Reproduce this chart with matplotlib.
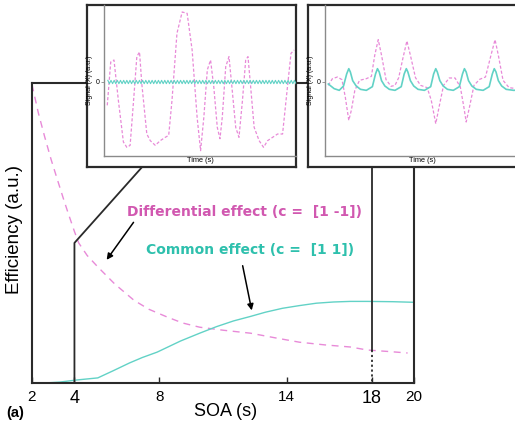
import numpy as np
import matplotlib
matplotlib.use('Agg')
import matplotlib.pyplot as plt

plt.rcParams.update({
    'font.family': ['Liberation Sans', 'DejaVu Sans'],
})

PINK_LINE = '#e88ad8'
PINK_TEXT = '#d158b0'
TEAL_LINE = '#62d2c6'
TEAL_TEXT = '#2ec0ad'
EDGE = '#2a2a2a'

# main panel: efficiency vs SOA
soa_diff = [2.0, 2.3, 2.6, 2.9, 3.2, 3.5, 3.7, 4.0, 4.2, 4.6, 5.1, 5.9, 6.8, 7.5, 8.4,
            9.1, 9.9, 11.0, 12.3, 13.5, 14.6, 15.8, 17.0, 17.8, 18.8, 19.7]
eff_diff = [0.995, 0.90, 0.82, 0.745, 0.677, 0.61, 0.567, 0.505, 0.467, 0.425, 0.387, 0.33,
            0.276, 0.246, 0.219, 0.200, 0.186, 0.176, 0.166, 0.150, 0.136, 0.127, 0.120,
            0.110, 0.105, 0.100]

soa_comm = [2.0, 2.6, 3.3, 4.1, 5.1, 5.8, 6.6, 7.2, 7.9, 9.0, 9.9, 10.7, 11.5, 12.3, 13.0,
            13.8, 14.6, 15.4, 16.2, 17.0, 17.8, 19.0, 20.0]
eff_comm = [0.0, 0.0, 0.003, 0.010, 0.017, 0.040, 0.067, 0.085, 0.103, 0.140, 0.166, 0.188,
            0.207, 0.222, 0.236, 0.249, 0.258, 0.266, 0.270, 0.272, 0.272, 0.271, 0.269]

xtick_vals = [2, 4, 8, 14, 18, 20]
xtick_sizes = [11, 13, 11, 11, 13, 11]

# inset 1: SOA = 4 s
t1_diff = [1.7, 3.5, 5.2, 7.5, 10.1, 11.9, 13.6, 15.4, 17.1, 18.5, 19.7, 22.3, 24.1, 26.7,
           29.3, 31.9, 33.7, 35.4, 38.0, 40.7, 43.3, 45.9, 48.5, 50.3, 52.0, 53.8, 55.5,
           57.2, 59.0, 60.4, 61.6, 63.4, 65.1, 66.8, 68.6, 70.3, 72.1, 73.8, 75.0, 76.4,
           78.2, 80.8, 83.1, 85.2, 87.8, 90.4, 93.0, 94.8, 97.4, 99.1]
s1_diff = [-0.35, 0.30, 0.33, -0.28, -0.90, -0.98, -0.95, -0.28, 0.38, 0.45, -0.03, -0.78,
           -0.88, -0.95, -0.88, -0.83, -0.80, -0.28, 0.73, 1.05, 1.03, 0.48, -0.53, -1.03,
           -0.53, 0.18, 0.33, -0.08, -0.68, -0.85, -0.53, 0.23, 0.38, -0.13, -0.68, -0.83,
           -0.28, 0.33, 0.38, -0.08, -0.68, -0.88, -0.98, -0.88, -0.83, -0.78, -0.78, -0.28,
           0.43, 0.48]
s1_comm = [0.025, -0.025, 0.025, -0.025, 0.025, -0.025, 0.025, -0.025, 0.025, -0.025, 0.025, -0.025,
           0.025, -0.025, 0.025, -0.025, 0.025, -0.025, 0.025, -0.025, 0.025, -0.025, 0.025, -0.025,
           0.025, -0.025, 0.025, -0.025, 0.025, -0.025, 0.025, -0.025, 0.025, -0.025, 0.025, -0.025,
           0.025, -0.025, 0.025, -0.025, 0.025, -0.025, 0.025, -0.025, 0.025, -0.025, 0.025, -0.025,
           0.025, -0.025, 0.025, -0.025, 0.025, -0.025, 0.025, -0.025, 0.025, -0.025, 0.025, -0.025,
           0.025, -0.025, 0.025, -0.025, 0.025, -0.025, 0.025, -0.025, 0.025, -0.025, 0.025, -0.025,
           0.025, -0.025, 0.025, -0.025, 0.025, -0.025, 0.025, -0.025, 0.025, -0.025, 0.025, -0.025,
           0.025, -0.025, 0.025, -0.025, 0.025, -0.025, 0.025, -0.025, 0.025, -0.025, 0.025, -0.025,
           0.025, -0.025, 0.025, -0.025, 0.025, -0.025, 0.025, -0.025, 0.025, -0.025, 0.025, -0.025,
           0.025, -0.025, 0.025, -0.025, 0.025, -0.025, 0.025, -0.025, 0.025, -0.025, 0.025, -0.025]

# inset 2: SOA = 18 s
t2_diff = [1.7, 3.8, 6.4, 8.7, 10.4, 12.2, 13.5, 15.3, 17.7, 21.2, 23.8, 25.5, 27.3, 29.0,
           31.3, 33.9, 35.9, 37.8, 39.9, 42.0, 43.8, 46.4, 49.0, 52.4, 54.5, 56.8, 58.5,
           60.8, 63.7, 66.7, 69.4, 71.2, 72.4, 74.1, 76.4, 79.3, 82.3, 85.1, 87.2, 88.9,
           91.3, 94.4, 98.4]
s2_diff = [-0.05, 0.05, 0.075, 0.035, -0.225, -0.575, -0.425, -0.125, 0.025, 0.05, 0.085,
           0.40, 0.635, 0.40, 0.035, -0.065, -0.05, 0.065, 0.35, 0.615, 0.40, 0.065, -0.05,
           -0.085, -0.275, -0.625, -0.375, -0.05, 0.06, 0.06, -0.075, -0.375, -0.60, -0.375,
           -0.05, 0.04, 0.075, 0.40, 0.635, 0.40, 0.025, -0.085, -0.10]
t2_comm = [1.7, 4.7, 7.3, 9.5, 11.1, 12.2, 13.0, 14.2, 16.0, 18.2, 21.2, 24.3, 25.9, 26.9,
           27.8, 29.0, 30.7, 33.0, 35.9, 39.1, 40.6, 41.7, 42.5, 43.8, 45.5, 47.7, 51.0,
           54.2, 55.7, 56.8, 57.6, 58.9, 60.6, 62.8, 65.8, 68.9, 70.5, 71.5, 72.4, 73.6,
           75.3, 77.6, 81.1, 84.2, 85.8, 86.8, 87.7, 88.9, 90.6, 92.9, 96.7, 100.0]
s2_comm = [-0.03, -0.10, -0.125, -0.06, 0.12, 0.20, 0.15, 0.02, -0.06, -0.11, -0.125,
           -0.07, 0.12, 0.20, 0.15, 0.02, -0.06, -0.11, -0.125, -0.07, 0.12, 0.20, 0.15,
           0.02, -0.06, -0.11, -0.125, -0.07, 0.12, 0.20, 0.15, 0.02, -0.06, -0.11, -0.125,
           -0.07, 0.12, 0.20, 0.15, 0.02, -0.06, -0.11, -0.125, -0.07, 0.12, 0.20, 0.15,
           0.02, -0.06, -0.11, -0.125, -0.12]

W, H = 515, 432
fig = plt.figure(figsize=(W / 100, H / 100), dpi=100)


def px_axes(x0, y0, x1, y1, **kw):
    # place an axes by its pixel box (top-left origin)
    return fig.add_axes([x0 / W, 1 - y1 / H, (x1 - x0) / W, (y1 - y0) / H], **kw)


ax = px_axes(32, 83, 414, 383)
ax.plot(soa_diff, eff_diff, color=PINK_LINE, lw=1.0, dashes=(5, 4))
ax.plot(soa_comm, eff_comm, color=TEAL_LINE, lw=1.0)
ax.set_xlim(2, 20)
ax.set_ylim(0, 1)
ax.set_yticks([])
ax.set_xticks(xtick_vals)
ax.set_xticklabels([str(v) for v in xtick_vals])
for lab, fs in zip(ax.get_xticklabels(), xtick_sizes):
    lab.set_fontsize(fs)
ax.tick_params(axis='x', direction='in', length=4, width=1, color=EDGE, pad=5)
for sp in ax.spines.values():
    sp.set_color(EDGE)
    sp.set_linewidth(1.5)

# connector lines to the insets
ax.plot([4, 4, 7.19], [0, 0.467, 0.72], color=EDGE, lw=1.3, clip_on=False, zorder=3)
ax.plot([18, 18], [0.72, 0.11], color=EDGE, lw=1.3, clip_on=False, zorder=3)
ax.plot([18, 18], [0.11, 0.0], color=EDGE, lw=1.3, ls=(0, (1.2, 1.5)), zorder=3)

ax.text(6.48, 0.57, 'Differential effect (c =  [1 -1])', color=PINK_TEXT,
        fontsize=10, fontweight='bold', family='DejaVu Sans', va='center', ha='left')
ax.text(7.38, 0.445, 'Common effect (c =  [1 1])', color=TEAL_TEXT,
        fontsize=10, fontweight='bold', family='DejaVu Sans', va='center', ha='left')
ax.annotate('', xy=(5.44, 0.403), xytext=(6.86, 0.543),
            arrowprops=dict(arrowstyle='-|>', color='black', lw=1.1, mutation_scale=9))
ax.annotate('', xy=(12.38, 0.233), xytext=(11.9, 0.40),
            arrowprops=dict(arrowstyle='-|>', color='black', lw=1.1, mutation_scale=9))

fig.text(15 / W, 1 - 230 / H, 'Efficiency (a.u.)', rotation=90, fontsize=13.5,
         ha='center', va='center')
fig.text(226 / W, 1 - 411 / H, 'SOA (s)', fontsize=13, ha='center', va='center')
fig.text(6 / W, 1 - 413 / H, '(a)', fontsize=10.5, fontweight='bold', ha='left', va='center')


def inset(frame_box, inner_box, t_diff, s_diff, t_comm, s_comm, comm_lw):
    fr = px_axes(*frame_box)
    fr.set_xticks([])
    fr.set_yticks([])
    fr.set_facecolor('white')
    for sp in fr.spines.values():
        sp.set_color(EDGE)
        sp.set_linewidth(1.6)
    ia = px_axes(*inner_box)
    ia.patch.set_alpha(0)
    ia.plot(t_diff, s_diff, color=PINK_LINE, lw=0.9, dashes=(2.5, 1.6))
    ia.plot(t_comm, s_comm, color=TEAL_LINE, lw=comm_lw)
    ia.set_xlim(0, 100)
    ia.set_ylim(-1.11, 1.155)
    ia.set_xticks([])
    ia.set_yticks([0])
    ia.set_yticklabels(['0'], fontsize=5)
    ia.tick_params(axis='y', length=2, width=0.6, color='#888888', pad=1)
    for side in ('top', 'right'):
        ia.spines[side].set_visible(False)
    for side in ('left', 'bottom'):
        ia.spines[side].set_color('#8a8a8a')
        ia.spines[side].set_linewidth(1.0)
    ia.set_ylabel('Signal (X) (a.u.)', fontsize=5, labelpad=2)
    ia.set_xlabel('Time (s)', fontsize=5.3, labelpad=0.5)
    return fr, ia


inset((87, 5, 296, 167), (104, 5, 296, 156), t1_diff, s1_diff,
      np.linspace(2, 100, len(s1_comm)), s1_comm, 0.8)
inset((308, 5, 522, 167), (325, 5, 520, 156), t2_diff, s2_diff, t2_comm, s2_comm, 1.2)

fig.savefig('out.png', dpi=100)
